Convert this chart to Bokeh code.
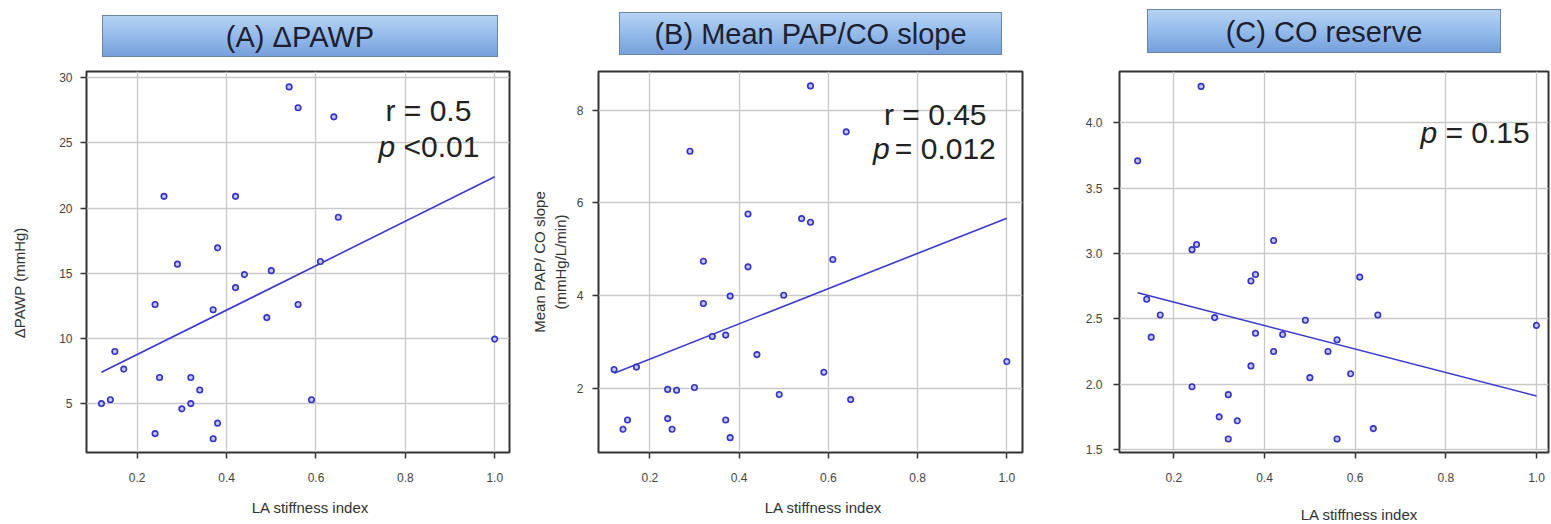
from bokeh.plotting import figure
from bokeh.models import Range1d, FixedTicker, Label, Div
from bokeh.layouts import row, column
from bokeh.embed import file_html
from bokeh.resources import INLINE

# ---------------- data ----------------
titles = ["(A) \u0394PAWP", "(B) Mean PAP/CO slope", "(C) CO reserve"]
x_label = "LA stiffness index"
y_labels = ["\u0394PAWP  (mmHg)", "Mean PAP/ CO slope\n(mmHg/L/min)", ""]

la_stiffness = [0.12, 0.14, 0.15, 0.17, 0.24, 0.24, 0.25, 0.26, 0.29, 0.30,
                0.32, 0.32, 0.34, 0.37, 0.37, 0.38, 0.38, 0.42, 0.42, 0.44,
                0.49, 0.50, 0.54, 0.56, 0.56, 0.59, 0.61, 0.64, 0.65, 1.00]

delta_pawp = [5.0, 5.3, 9.0, 7.65, 12.6, 2.7, 7.0, 20.9, 15.7, 4.6,
              7.0, 5.0, 6.05, 12.2, 2.3, 16.95, 3.5, 20.9, 13.9, 14.9,
              11.6, 15.2, 29.3, 27.7, 12.6, 5.3, 15.9, 27.0, 19.3, 9.95]

pap_co_slope = [2.41, 1.12, 1.32, 2.46, 1.98, 1.35, 1.12, 1.96, 7.11, 2.02,
                4.74, 3.83, 3.12, 3.15, 1.32, 3.99, 0.94, 4.62, 5.76, 2.73,
                1.87, 4.01, 5.66, 8.52, 5.58, 2.35, 4.78, 7.53, 1.76, 2.58]

co_reserve = [3.71, 2.65, 2.36, 2.53, 3.03, 1.98, 3.07, 4.28, 2.51, 1.75,
              1.92, 1.58, 1.72, 2.79, 2.14, 2.84, 2.39, 3.10, 2.25, 2.38,
              2.49, 2.05, 2.25, 2.34, 1.58, 2.08, 2.82, 1.66, 2.53, 2.45]

fit_x = [0.12, 1.00]
fit_a = [7.4, 22.4]
fit_b = [2.33, 5.67]
fit_c = [2.70, 1.91]

x_ticks = [0.2, 0.4, 0.6, 0.8, 1.0]
x_tick_labels = ["0.2", "0.4", "0.6", "0.8", "1.0"]
a_ticks = [5, 10, 15, 20, 25, 30]
a_tick_labels = ["5", "10", "15", "20", "25", "30"]
b_ticks = [2, 4, 6, 8]
b_tick_labels = ["2", "4", "6", "8"]
c_ticks = [1.5, 2.0, 2.5, 3.0, 3.5, 4.0]
c_tick_labels = ["1.5", "2.0", "2.5", "3.0", "3.5", "4.0"]

stats_a = ["r = 0.5", "p", "<0.01"]
stats_b = ["r = 0.45", "p", "= 0.012"]
stats_c = ["p", "= 0.15"]

# ---------------- style ----------------
FONT = "Liberation Sans"
PT_LINE = "#3434c4"
PT_FILL = "#c4c4f2"
FIT_COLOR = "#3a3ad2"
TEXT = "#222222"
NBSP = "\u00a0"


def title_div(text, w, h, margin):
    html = (
        f'<div style="box-sizing:border-box;width:{w}px;height:{h}px;'
        'border:1px solid #6a85a8;'
        'background:linear-gradient(to bottom,#b6d2f3 0%,#94bbea 50%,#76a0dc 100%);'
        f"font-family:'{FONT}',Arial,sans-serif;font-size:29px;line-height:{h}px;"
        'text-align:center;color:#1c2030;white-space:nowrap;overflow:hidden;">'
        + text + '</div>'
    )
    return Div(text=html, width=w, height=h, margin=margin)


def xlabel_div(text, w, h, margin):
    html = (
        f'<div style="width:{w}px;height:{h}px;'
        f"font-family:'{FONT}',Arial,sans-serif;font-size:15px;line-height:{h}px;"
        'text-align:center;color:#333333;white-space:nowrap;">'
        + text + '</div>'
    )
    return Div(text=html, width=w, height=h, margin=margin)


def make_panel(ys, fit_y, xr, yr, yticks, ytick_labels, ylabel, w, h,
               bl, br, bt, bb, ylab_standoff, ytick_standoff):
    p = figure(width=w, height=h, x_range=Range1d(*xr), y_range=Range1d(*yr),
               output_backend="svg", toolbar_location=None, title=None,
               min_border_left=bl, min_border_right=br,
               min_border_top=bt, min_border_bottom=bb)
    p.background_fill_color = "white"
    p.border_fill_color = "white"
    p.outline_line_color = "#333333"
    p.outline_line_width = 2
    p.outline_line_alpha = 1.0

    p.xaxis.ticker = FixedTicker(ticks=x_ticks)
    p.xaxis.major_label_overrides = dict(zip(x_ticks, x_tick_labels))
    p.yaxis.ticker = FixedTicker(ticks=yticks)
    p.yaxis.major_label_overrides = dict(zip(yticks, ytick_labels))
    p.xgrid.ticker = FixedTicker(ticks=x_ticks)
    p.ygrid.ticker = FixedTicker(ticks=yticks)
    for g in (p.xgrid, p.ygrid):
        g.grid_line_color = "#c9c9c9"
        g.grid_line_width = 1.3

    for ax in (p.xaxis, p.yaxis):
        ax.axis_line_color = None
        ax.major_tick_in = 0
        ax.major_tick_out = 6
        ax.major_tick_line_color = "#333333"
        ax.major_tick_line_width = 1.5
        ax.minor_tick_line_color = None
        ax.major_label_text_font = FONT
        ax.major_label_text_font_size = "12px"
        ax.major_label_text_color = "#444444"
        ax.axis_label_text_font = FONT
        ax.axis_label_text_font_size = "15px"
        ax.axis_label_text_font_style = "normal"
        ax.axis_label_text_color = "#333333"
    p.xaxis.major_label_standoff = 14
    p.yaxis.major_label_standoff = ytick_standoff
    if ylabel:
        p.yaxis.axis_label = ylabel
        p.yaxis.axis_label_standoff = ylab_standoff

    p.line(fit_x, fit_y, line_color=FIT_COLOR, line_width=1.6)
    p.scatter(la_stiffness, ys, marker="circle", size=5.5,
              line_color=PT_LINE, fill_color=PT_FILL, line_width=1.6)
    return p


def stat_label(p, x, y, text, italic=False):
    p.add_layout(Label(x=x, y=y, text=text, text_font=FONT,
                       text_font_size="30px", text_color=TEXT,
                       text_font_style="italic" if italic else "normal",
                       text_align="left", text_baseline="alphabetic"))


# trailing no-break spaces shift the rotated label toward the bottom, as in the original
pA = make_panel(delta_pawp, fit_a, (0.0866, 1.033), (1.25, 30.48),
                a_ticks, a_tick_labels, y_labels[0] + NBSP * 9, 528, 440,
                86, 19, 14, 44, 28, 8)
stat_label(pA, 0.7555, 27.5, stats_a[0])
stat_label(pA, 0.740, 24.74, stats_a[1], italic=True)
stat_label(pA, 0.7957, 24.74, stats_a[2])

pB = make_panel(pap_co_slope, fit_b, (0.085, 1.035), (0.62, 8.83),
                b_ticks, b_tick_labels, y_labels[1], 512, 440,
                69, 18, 12, 45, 5, 9)
stat_label(pB, 0.7246, 7.91, stats_b[0])
stat_label(pB, 0.700, 7.18, stats_b[1], italic=True)
stat_label(pB, 0.749, 7.18, stats_b[2])

pC = make_panel(co_reserve, fit_c, (0.080, 1.0265), (1.477, 4.394),
                c_ticks, c_tick_labels, y_labels[2], 511, 440,
                79, 3, 9, 44, 5, 11)
stat_label(pC, 0.744, 3.925, stats_c[0], italic=True)
stat_label(pC, 0.799, 3.925, stats_c[1])

tA = title_div(titles[0], 396, 42, (15, 0, 0, 102))
tB = title_div(titles[1], 383, 43, (12, 0, 2, 121))
tC = title_div(titles[2], 354, 44, (9, 0, 4, 145))

xA = xlabel_div(x_label, 200, 18, (2, 0, 7, 210))
xB = xlabel_div(x_label, 200, 18, (2, 0, 7, 313))
xC = xlabel_div(x_label, 200, 18, (9, 0, 0, 336))

layout = column(row(tA, tB, tC), row(pA, pB, pC), row(xA, xB, xC))

open("out.html", "w").write(file_html(layout, INLINE))
